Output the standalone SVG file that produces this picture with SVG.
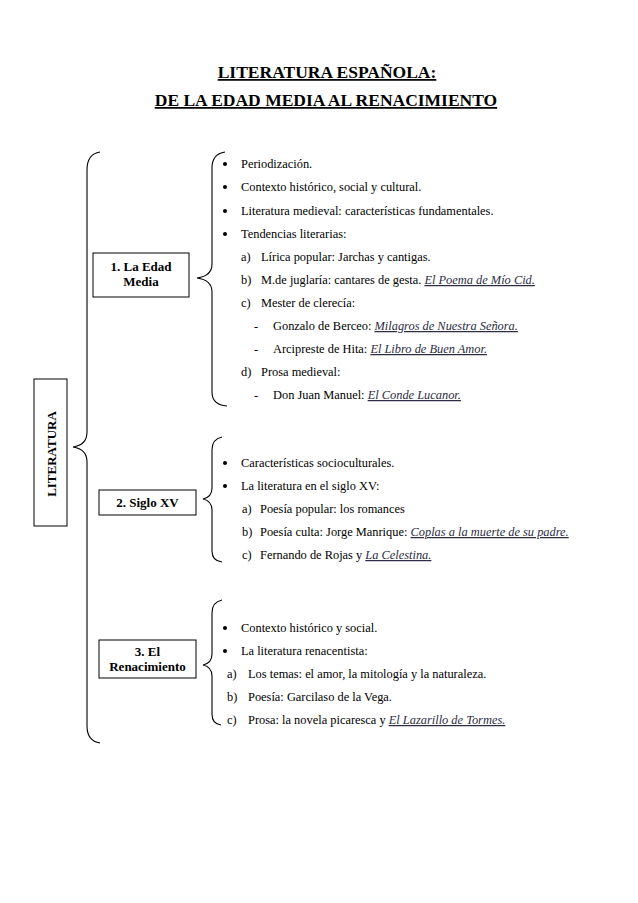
<svg xmlns="http://www.w3.org/2000/svg" width="638" height="903" viewBox="0 0 638 903">
<style>
text{font-family:"Liberation Serif","Times New Roman",serif;fill:#000}
.title{font-size:17.5px;font-weight:bold;text-decoration:underline;text-anchor:middle}
.lbl{font-size:13px;font-weight:bold;text-anchor:middle}
.it{font-size:12.4px}
.u{font-style:italic;text-decoration:underline;fill:#2c2c44}
.box{fill:#fff;stroke:#000;stroke-width:1}
.brace{fill:none;stroke:#000;stroke-width:1.1}
</style>
<rect width="638" height="903" fill="#fff"/>
<g id="title">
<text class="title" x="327" y="78">LITERATURA ESPAÑOLA:</text>
<text class="title" x="326" y="106">DE LA EDAD MEDIA AL RENACIMIENTO</text>
</g>
<g id="connectors">
<path class="brace" d="M100,152 Q87,154 87,170 L87,432 Q87,445 73,447 Q87,449 87,462 L87,726 Q87,741 100,743"/>
<path class="brace" d="M225,152 Q212,154 212,168 L212,264 Q212,276 197,278 Q212,280 212,292 L212,392 Q212,405 227,406"/>
<path class="brace" d="M222,437 Q212,439 212,450 L212,488 Q212,497 203,499 Q212,501 212,510 L212,551 Q212,561 222,562"/>
<path class="brace" d="M222,600 Q212,602 212,613 L212,654 Q212,663 203,665 Q212,667 212,676 L212,714 Q212,724 221,725"/>
</g>
<g id="n-literatura">
<rect class="box" x="34" y="379" width="33" height="147"/>
<text class="lbl" transform="translate(56,454) rotate(-90)">LITERATURA</text>
</g>
<g id="n-edadmedia">
<rect class="box" x="93" y="253" width="96" height="44"/>
<text class="lbl" x="141" y="271">1. La Edad</text>
<text class="lbl" x="141" y="286">Media</text>
</g>
<g id="n-sigloxv">
<rect class="box" x="99" y="490" width="97" height="25"/>
<text class="lbl" x="147.5" y="507">2. Siglo XV</text>
</g>
<g id="n-renacimiento">
<rect class="box" x="99" y="640" width="97" height="38"/>
<text class="lbl" x="147.5" y="656">3. El</text>
<text class="lbl" x="147.5" y="671">Renacimiento</text>
</g>
<g id="list-edadmedia">
<circle cx="225" cy="164" r="2"/><circle cx="225" cy="187" r="2"/><circle cx="225" cy="211" r="2"/><circle cx="225" cy="234" r="2"/>
<text class="it" x="241" y="168">Periodización.</text>
<text class="it" x="241" y="191">Contexto histórico, social y cultural.</text>
<text class="it" x="241" y="215">Literatura medieval: características fundamentales.</text>
<text class="it" x="241" y="238">Tendencias literarias:</text>
<text class="it" x="241" y="261">a)</text><text class="it" x="261" y="261">Lírica popular: Jarchas y cantigas.</text>
<text class="it" x="241" y="284">b)</text><text class="it" x="261" y="284">M.de juglaría: cantares de gesta. <tspan class="u">El Poema de Mío Cid.</tspan></text>
<text class="it" x="241" y="307">c)</text><text class="it" x="261" y="307">Mester de clerecía:</text>
<text class="it" x="254" y="330">-</text><text class="it" x="273" y="330">Gonzalo de Berceo: <tspan class="u">Milagros de Nuestra Señora.</tspan></text>
<text class="it" x="254" y="353">-</text><text class="it" x="273" y="353">Arcipreste de Hita: <tspan class="u">El Libro de Buen Amor.</tspan></text>
<text class="it" x="241" y="376">d)</text><text class="it" x="261" y="376">Prosa medieval:</text>
<text class="it" x="254" y="399">-</text><text class="it" x="273" y="399">Don Juan Manuel: <tspan class="u">El Conde Lucanor.</tspan></text>
</g>
<g id="list-sigloxv">
<circle cx="225" cy="463" r="2"/><circle cx="225" cy="486" r="2"/>
<text class="it" x="241" y="467">Características socioculturales.</text>
<text class="it" x="241" y="490">La literatura en el siglo XV:</text>
<text class="it" x="242" y="513">a)</text><text class="it" x="260" y="513">Poesía  popular: los romances</text>
<text class="it" x="242" y="536">b)</text><text class="it" x="260" y="536">Poesía culta: Jorge Manrique: <tspan class="u">Coplas a la muerte de su padre.</tspan></text>
<text class="it" x="242" y="559">c)</text><text class="it" x="260" y="559">Fernando de Rojas y <tspan class="u">La Celestina.</tspan></text>
</g>
<g id="list-renacimiento">
<circle cx="225" cy="628" r="2"/><circle cx="225" cy="651" r="2"/>
<text class="it" x="241" y="632">Contexto histórico y social.</text>
<text class="it" x="241" y="655">La literatura renacentista:</text>
<text class="it" x="227" y="678">a)</text><text class="it" x="248" y="678">Los temas: el amor, la mitología y la naturaleza.</text>
<text class="it" x="227" y="701">b)</text><text class="it" x="248" y="701">Poesía: Garcilaso de la Vega.</text>
<text class="it" x="227" y="724">c)</text><text class="it" x="248" y="724">Prosa: la novela picaresca y <tspan class="u">El Lazarillo de Tormes.</tspan></text>
</g>
</svg>
